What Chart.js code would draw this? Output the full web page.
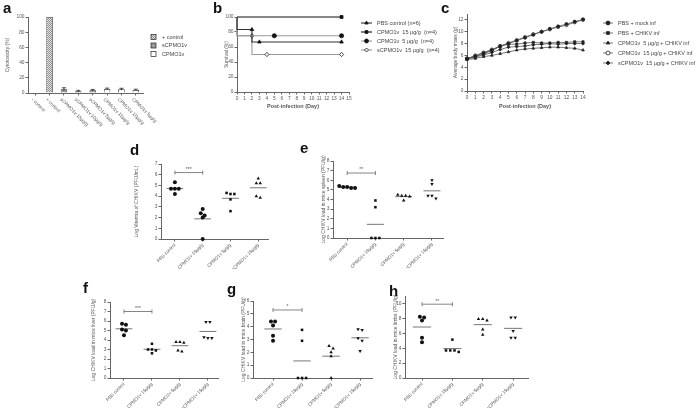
<!DOCTYPE html>
<html>
<head>
<meta charset="utf-8">
<script src="https://cdn.jsdelivr.net/npm/chart.js@4.4.0/dist/chart.umd.min.js"></script>
<style>
body { margin: 0; background: #fff; }
#wrap { position: relative; width: 700px; height: 419px; overflow: hidden; }
canvas { position: absolute; left: 0; top: 0; }
.lt { position: absolute; font: bold 15px 'Liberation Sans', Arial, sans-serif; color: #111; line-height: 1; }
</style>
</head>
<body>
<div id="wrap">
  <canvas id="ca" width="700" height="419"></canvas>
  <canvas id="cb" width="700" height="419"></canvas>
  <canvas id="cc" width="700" height="419"></canvas>
  <canvas id="cd" width="700" height="419"></canvas>
  <canvas id="ce" width="700" height="419"></canvas>
  <canvas id="cf" width="700" height="419"></canvas>
  <canvas id="cg" width="700" height="419"></canvas>
  <canvas id="ch" width="700" height="419"></canvas>
  <div class="lt" style="left:3px;top:0px">a</div>
  <div class="lt" style="left:213px;top:0px">b</div>
  <div class="lt" style="left:441px;top:0px">c</div>
  <div class="lt" style="left:130px;top:142px">d</div>
  <div class="lt" style="left:300px;top:140px">e</div>
  <div class="lt" style="left:83px;top:280px">f</div>
  <div class="lt" style="left:227px;top:281px">g</div>
  <div class="lt" style="left:389px;top:283px">h</div>
</div>
<script>
const FONT = "'Liberation Sans', Arial, sans-serif";
Chart.defaults.font.family = FONT;
Chart.defaults.color = '#555';
Chart.defaults.animation = false;
Chart.defaults.responsive = false;
Chart.defaults.plugins.legend.display = false;
Chart.defaults.plugins.tooltip.enabled = false;

// ---- a: cytotoxicity
const aLabels = ['- control', '+ control', 'sCPMO1v 15µg/g', 'sCPMO1v 10µg/g', 'sCPMO1v 5µg/g',
  'CPMO1v 15µg/g', 'CPMO1v 10µg/g', 'CPMO1v 5µg/g'];
const aPosCtrl = [null, 100, null, null, null, null, null, null];
const aSCPMO = [null, null, 4.9, 2.3, 3.5, null, null, null];
const aCPMO = [null, null, null, null, null, 5.2, 5.0, 4.0];
const aErr = [0, 0, 2.0, 1.2, 1.2, 1.2, 1.2, 1.0];

// ---- b: survival (Kaplan-Meier steps)
const survPbsDays = [0, 2, 3, 14], survPbs = [100, 83.3, 66.7, 66.7];
const survCp15Days = [0, 14], survCp15 = [100, 100];
const survCp5Days = [0, 5, 14], survCp5 = [100, 75, 75];
const survScp15Days = [0, 2, 4, 14], survScp15 = [100, 75, 50, 50];

// ---- c: body mass
const cDays = [0, 1, 2, 3, 4, 5, 6, 7, 8, 9, 10, 11, 12, 13, 14];
const massMock = [5.5, 5.9, 6.4, 6.9, 7.5, 8.0, 8.5, 9.0, 9.5, 10.0, 10.5, 10.9, 11.3, 11.7, 12.1];
const massPbsChikv = [5.5, 5.8, 6.3, 6.8, 7.6, 7.9, 7.9, 8.1, 8.2, 8.1, 8.1, 8.2, 8.2, 8.3, 8.3];
const massCp5 = [5.3, 5.5, 5.8, 6.0, 6.3, 6.6, 6.9, 7.1, 7.2, 7.3, 7.4, 7.4, 7.3, 7.2, 6.9];
const massCp15 = [5.4, 6.0, 6.5, 7.0, 7.6, 8.1, 8.6, 9.1, 9.6, 10.0, 10.4, 10.8, 11.1, 11.6, 12.0];
const massScp15 = [5.4, 5.7, 6.1, 6.5, 7.0, 7.4, 7.5, 7.6, 7.8, 7.9, 8.0, 7.9, 8.0, 8.0, 8.0];

// ---- d-h: per-mouse log titres, groups in GROUPS order
const GROUPS = ['PBS control', 'CPMO1v 15µg/g', 'CPMO1v 5µg/g', 'sCPMO1v 15µg/g'];
const viremia = [[5.3, 4.7, 4.7, 4.7, 4.2], [2.8, 2.4, 2.2, 2.0, 0], [4.2, 4.2, 4.3, 3.7, 2.6], [5.65, 5.2, 5.2, 3.85, 4.0]];
const spleen = [[5.4, 5.3, 5.2, 5.3, 5.2], [3.9, 3.2, 0, 0, 0], [4.3, 4.5, 4.4, 3.9, 4.4], [6.0, 5.6, 4.4, 4.1, 4.4]];
const liver = [[5.7, 5.6, 5.1, 5.0, 4.5], [3.6, 3.0, 3.0, 2.9, 2.6], [3.8, 3.7, 3.8, 2.8, 2.9], [5.9, 5.9, 4.3, 4.2, 4.2]];
const brain = [[4.4, 4.4, 4.1, 3.3, 2.9], [3.75, 2.9, 0, 0, 0], [2.5, 2.3, 2.0, 1.7, 0], [3.8, 3.75, 3.1, 2.9, 2.1]];
const limbs = [[8.1, 7.7, 8.2, 4.8, 5.4], [5.15, 3.7, 3.5, 3.7, 3.7], [7.9, 7.7, 7.9, 6.5, 5.8], [8.1, 8.1, 6.3, 5.4, 5.4]];

// place the chart area at page coords; ya / xa = axis box sizes
function box(x0, x1, y0, y1, ya, xa) {
  return { autoPadding: false, padding: { left: x0 - ya, right: 700 - x1, top: y0, bottom: 419 - y1 - xa } };
}
function yAxis(ya, min, max, step, title) {
  return {
    type: 'linear', min: min, max: max,
    ticks: { stepSize: step, font: { size: 4.8 }, padding: 1, color: '#555' },
    grid: { drawOnChartArea: false, tickLength: 2.5, color: '#666' },
    border: { color: '#666', width: 1 },
    title: { display: true, text: title, font: { size: 5 }, padding: 0, color: '#555' },
    afterFit: s => { s.width = ya; s.paddingTop = 0; s.paddingBottom = 0; }
  };
}
function xNum(xa, min, max, title) {
  return {
    type: 'linear', min: min, max: max,
    ticks: { stepSize: 1, font: { size: 4.8 }, padding: 1, color: '#555', autoSkip: false, maxRotation: 0 },
    grid: { drawOnChartArea: false, tickLength: 2.5, color: '#666' },
    border: { color: '#666', width: 1 },
    title: { display: true, text: title, font: { size: 5.5, weight: 'bold' }, padding: 0, color: '#555' },
    afterFit: s => { s.height = xa; s.paddingLeft = 0; s.paddingRight = 0; }
  };
}

const lineLegend = {
  id: 'lineLegend',
  afterDraw(chart, args, o) {
    const ctx = chart.ctx;
    chart.data.datasets.forEach((ds, i) => {
      const y = o.y0 + i * o.dy;
      ctx.save();
      ctx.strokeStyle = ds.borderColor;
      ctx.lineWidth = ds.borderWidth;
      ctx.beginPath(); ctx.moveTo(o.x, y); ctx.lineTo(o.x + o.w, y); ctx.stroke();
      ctx.fillStyle = ds.pointBackgroundColor;
      ctx.strokeStyle = ds.pointBorderColor;
      ctx.lineWidth = 0.8;
      Chart.helpers.drawPoint(ctx, { pointStyle: ds.pointStyle, radius: 2, rotation: ds.pointRotation || 0, borderWidth: 0.8 }, o.x + o.w / 2, y);
      ctx.fillStyle = '#444';
      ctx.font = '5.5px ' + FONT;
      ctx.textBaseline = 'middle';
      ctx.textAlign = 'left';
      ctx.fillText(ds.label, o.x + o.w + 5, y);
      ctx.restore();
    });
  }
};

// ---------- a ----------
function hatch() {
  const c = document.createElement('canvas'); c.width = 2; c.height = 2;
  const g = c.getContext('2d');
  g.fillStyle = '#e4e4e4'; g.fillRect(0, 0, 2, 2);
  g.fillStyle = '#8f8f8f'; g.fillRect(0, 0, 1, 1); g.fillRect(1, 1, 1, 1);
  return g.createPattern(c, 'repeat');
}
const pat = hatch();
const aExtras = {
  id: 'aExtras',
  afterDatasetsDraw(chart) {
    const ctx = chart.ctx, xs = chart.scales.x, ys = chart.scales.y;
    ctx.save();
    ctx.strokeStyle = '#222'; ctx.lineWidth = 0.8;
    aLabels.forEach((l, i) => {
      const v = [aPosCtrl[i], aSCPMO[i], aCPMO[i]].find(z => z !== null);
      if (v === undefined || !aErr[i]) return;
      const x = xs.getPixelForValue(i), yt = ys.getPixelForValue(v + aErr[i]), yb = ys.getPixelForValue(Math.max(0, v - aErr[i]));
      ctx.beginPath(); ctx.moveTo(x, yb); ctx.lineTo(x, yt); ctx.moveTo(x - 2, yt); ctx.lineTo(x + 2, yt); ctx.stroke();
    });
    ctx.restore();
  },
  afterDraw(chart) {
    const ctx = chart.ctx, xs = chart.scales.x;
    ctx.save();
    ctx.fillStyle = '#555'; ctx.font = '4.8px ' + FONT; ctx.textBaseline = 'top'; ctx.textAlign = 'left';
    aLabels.forEach((l, i) => {
      ctx.save();
      ctx.translate(xs.getPixelForValue(i) - 1.5, chart.chartArea.bottom + 4);
      ctx.rotate(Math.PI / 4);
      ctx.fillText(l, 0, 0);
      ctx.restore();
    });
    // legend
    const items = [['+ control', pat, '#222'], ['sCPMO1v', '#9a9a9a', '#222'], ['CPMO1v', '#fff', '#222']];
    items.forEach((it, k) => {
      const y = 37 + k * 8.5;
      ctx.fillStyle = it[1]; ctx.fillRect(151, y - 2.5, 5, 5);
      ctx.strokeStyle = it[2]; ctx.lineWidth = 0.7; ctx.strokeRect(151, y - 2.5, 5, 5);
      ctx.fillStyle = '#444'; ctx.font = '5.5px ' + FONT; ctx.textBaseline = 'middle';
      ctx.fillText(it[0], 162, y);
    });
    ctx.restore();
  }
};
new Chart(document.getElementById('ca'), {
  type: 'bar',
  data: {
    labels: aLabels,
    datasets: [
      { data: aPosCtrl, backgroundColor: pat, borderColor: '#333', borderWidth: 0.8 },
      { data: aSCPMO, backgroundColor: '#9a9a9a', borderColor: '#222', borderWidth: 0.8 },
      { data: aCPMO, backgroundColor: '#fff', borderColor: '#222', borderWidth: 0.8 }
    ]
  },
  options: {
    layout: box(28, 143, 17, 93, 23, 40),
    datasets: { bar: { grouped: false, barPercentage: 0.45, categoryPercentage: 1 } },
    scales: {
      x: {
        ticks: { display: false },
        grid: { drawOnChartArea: false, offset: false, tickLength: 2.5, color: '#666' },
        border: { color: '#666', width: 1 },
        afterFit: s => { s.height = 40; s.paddingLeft = 0; s.paddingRight = 0; }
      },
      y: yAxis(23, 0, 100, 10, 'Cytotoxicity (%)')
    }
  },
  plugins: [aExtras]
});

// ---------- b ----------
function kmSet(label, days, vals, color, style, fill, rot) {
  return {
    label: label, data: days.map((d, i) => ({ x: d, y: vals[i] })),
    stepped: 'after', borderColor: color, borderWidth: 1.1,
    pointStyle: style, pointRotation: rot || 0,
    pointRadius: days.map((d, i) => i === 0 ? 0 : 2.1),
    pointBackgroundColor: fill, pointBorderColor: '#111', pointBorderWidth: 0.8
  };
}
new Chart(document.getElementById('cb'), {
  type: 'line',
  data: {
    datasets: [
      kmSet('PBS control (n=6)', survPbsDays, survPbs, '#333', 'triangle', '#111'),
      kmSet('CPMO1v  15 µg/g  (n=4)', survCp15Days, survCp15, '#111', 'rect', '#111'),
      kmSet('CPMO1v  5 µg/g  (n=4)', survCp5Days, survCp5, '#999', 'circle', '#111'),
      kmSet('sCPMO1v  15 µg/g  (n=4)', survScp15Days, survScp15, '#999', 'rectRot', '#fff')
    ]
  },
  options: {
    layout: box(237, 349, 17, 92, 13, 18),
    clip: false,
    scales: {
      x: xNum(18, 0, 15, 'Post-infection (Day)'),
      y: yAxis(13, 0, 100, 10, 'Survival (%)')
    },
    plugins: { lineLegend: { x: 361, w: 11, y0: 23, dy: 9 } }
  },
  plugins: [lineLegend]
});

// ---------- c ----------
function massSet(label, vals, style, fill, rot) {
  return {
    label: label, data: cDays.map((d, i) => ({ x: d, y: vals[i] })),
    borderColor: '#555', borderWidth: 0.8, pointStyle: style, pointRotation: rot || 0,
    pointRadius: 1.6, pointBackgroundColor: fill, pointBorderColor: '#222', pointBorderWidth: 0.7
  };
}
new Chart(document.getElementById('cc'), {
  type: 'line',
  data: {
    datasets: [
      massSet('PBS + mock inf', massMock, 'circle', '#222'),
      massSet('PBS + CHIKV inf', massPbsChikv, 'rect', '#222'),
      massSet('CPMO1v  5 µg/g + CHIKV inf', massCp5, 'triangle', '#222'),
      massSet('CPMO1v  15 µg/g + CHIKV inf', massCp15, 'circle', '#fff'),
      massSet('sCPMO1v  15 µg/g + CHIKV inf', massScp15, 'rectRot', '#222')
    ]
  },
  options: {
    layout: box(467, 583, 14, 91, 14, 19),
    clip: false,
    scales: {
      x: xNum(19, 0, 14, 'Post-infection (Day)'),
      y: yAxis(14, 0, 13, 1, 'Average body mass (g)')
    },
    plugins: { lineLegend: { x: 603, w: 10, y0: 23, dy: 10 } }
  },
  plugins: [lineLegend]
});

// ---------- d-h scatter panels ----------
function spread(vals, thr) {
  const idx = vals.map((v, i) => i).sort((a, b) => vals[b] - vals[a]);
  const off = new Array(vals.length).fill(0);
  let i = 0;
  while (i < idx.length) {
    let j = i;
    while (j + 1 < idx.length && vals[idx[i]] - vals[idx[j + 1]] < thr) j++;
    const n = j - i + 1;
    for (let k = 0; k < n; k++) off[idx[i + k]] = (k - (n - 1) / 2) * 0.14;
    i = j + 1;
  }
  return off;
}
const mean = a => a.reduce((s, v) => s + v, 0) / a.length;
const bracket = {
  id: 'bracket',
  afterDatasetsDraw(chart, args, o) {
    const ctx = chart.ctx, xs = chart.scales.x, ys = chart.scales.y;
    const p0 = xs.getPixelForValue(0), p1 = xs.getPixelForValue(1), py = ys.getPixelForValue(o.y);
    ctx.save();
    ctx.strokeStyle = '#666'; ctx.lineWidth = 0.8;
    ctx.beginPath();
    ctx.moveTo(p0, py - 2); ctx.lineTo(p0, py + 2);
    ctx.moveTo(p0, py); ctx.lineTo(p1, py);
    ctx.moveTo(p1, py - 2); ctx.lineTo(p1, py + 2);
    ctx.stroke();
    ctx.fillStyle = '#555'; ctx.font = '5px ' + FONT; ctx.textAlign = 'center'; ctx.textBaseline = 'bottom';
    ctx.fillText(o.text, (p0 + p1) / 2, py - 0.5);
    ctx.restore();
  }
};

function scatterPanel(id, vals, g, ymax, title, styles, sig) {
  const datasets = [];
  vals.forEach((v, k) => {
    const off = spread(v, ymax * 0.04);
    const down = styles[k] === 'tridown';
    datasets.push({
      type: 'scatter', data: v.map((y, i) => ({ x: k + off[i], y: y })),
      pointStyle: down ? 'triangle' : styles[k], pointRotation: down ? 180 : 0,
      pointRadius: styles[k] === 'rect' ? 1.8 : 2.0,
      pointBackgroundColor: '#111', pointBorderColor: '#111', pointBorderWidth: 0
    });
  });
  vals.forEach((v, k) => {
    const m = mean(v);
    datasets.push({
      type: 'line', data: [{ x: k - 0.3, y: m }, { x: k + 0.3, y: m }],
      borderColor: '#666', borderWidth: 0.9, pointRadius: 0
    });
  });
  new Chart(document.getElementById(id), {
    type: 'scatter',
    data: { datasets: datasets },
    options: {
      layout: box(g.x0, g.x1, g.y0, g.y1, g.ya, 30),
      clip: false,
      scales: {
        x: {
          type: 'linear', min: g.min, max: g.max,
          afterBuildTicks: s => { s.ticks = GROUPS.map((n, i) => ({ value: i })); },
          ticks: { autoSkip: false, minRotation: 45, maxRotation: 45, font: { size: 4.6 }, padding: 1, color: '#555',
            callback: v => GROUPS[v] },
          grid: { drawOnChartArea: false, tickLength: 2.5, color: '#666' },
          border: { color: '#666', width: 1 },
          afterFit: s => { s.height = 30; s.paddingLeft = 0; s.paddingRight = 0; }
        },
        y: yAxis(g.ya, 0, ymax, 1, title)
      },
      plugins: { bracket: sig }
    },
    plugins: [bracket]
  });
}
const STY = ['circle', 'rect', 'triangle', 'tridown'];
scatterPanel('cd', viremia, { x0: 161, x1: 268, y0: 164, y1: 239, ya: 27, min: -0.5, max: 3.35 }, 7,
  'Log Viremia of CHIKV (PFU/mL)', ['circle', 'circle', 'rect', 'triangle'], { y: 6.2, text: '***' });
scatterPanel('ce', spleen, { x0: 333, x1: 443, y0: 161, y1: 238, ya: 12, min: -0.5, max: 3.39 }, 8,
  'Log CHIKV load in mice spleen (PFU/g)', STY, { y: 6.75, text: '**' });
scatterPanel('cf', liver, { x0: 110, x1: 218, y0: 302, y1: 378, ya: 19.5, min: -0.5, max: 3.36 }, 8,
  'Log CHIKV load in mice liver (PFU/g)', STY, { y: 7, text: '***' });
scatterPanel('cg', brain, { x0: 253, x1: 372, y0: 301, y1: 378, ya: 12.5, min: -0.69, max: 3.41 }, 6,
  'Log CHIKV load in mice brain (PFU/g)', STY, { y: 5.3, text: '*' });
scatterPanel('ch', limbs, { x0: 405, x1: 528, y0: 296, y1: 378, ya: 12, min: -0.56, max: 3.49 }, 11,
  'Log CHIKV load in mice limbs (PFU/g)', STY, { y: 9.9, text: '**' });
</script>
</body>
</html>
